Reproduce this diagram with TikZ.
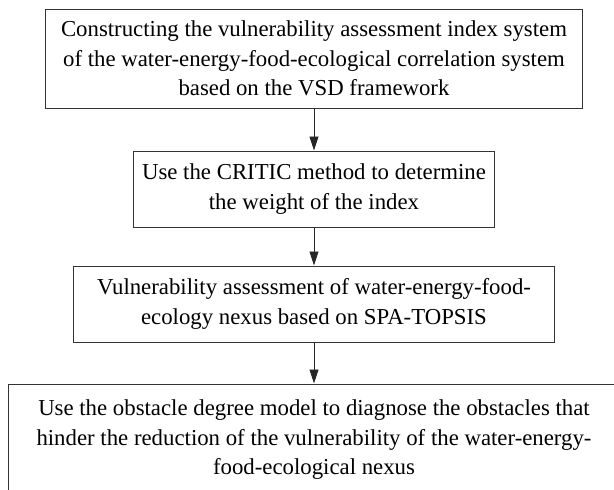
\documentclass[tikz,border=0pt]{standalone}
\usepackage{fontspec}
\setmainfont{Liberation Serif}
\usetikzlibrary{arrows.meta}

\begin{document}
\begin{tikzpicture}[x=1pt, y=1pt, line width=1pt,
		block/.style={rectangle, draw=black!80, line width=1pt, inner sep=0pt, align=center, font=\rmfamily\fontsize{22.8}{29.5}\selectfont},
		flow/.style={draw=black!85, line width=0.9pt, -{Triangle[length=14pt, width=9pt]}}]
		\useasboundingbox (0,0) rectangle (614,-490);
		\clip (0,0) rectangle (614,-490);
		\node[block, minimum width=537, minimum height=99](vsd) at (314,-58.5){Constructing the vulnerability assessment index system\\of the water-energy-food-ecological correlation system\\based on the VSD framework};
		\node[block, minimum width=361, minimum height=76](critic) at (314,-189){Use the CRITIC method to determine\\the weight of the index};
		\node[block, minimum width=481, minimum height=76](topsis) at (314,-304){Vulnerability assessment of water-energy-food-\\ecology nexus based on SPA-TOPSIS};
		\node[block, minimum width=612, minimum height=112](obstacle) at (314,-440){Use the obstacle degree model to diagnose the obstacles that\\hinder the reduction of the vulnerability of the water-energy-\\food-ecological nexus};

		\draw [flow] (vsd.south) -- (critic.north);
		\draw [flow] (critic.south) -- (topsis.north);
		\draw [flow] (topsis.south) -- (obstacle.north);
	\end{tikzpicture}
\end{document}
